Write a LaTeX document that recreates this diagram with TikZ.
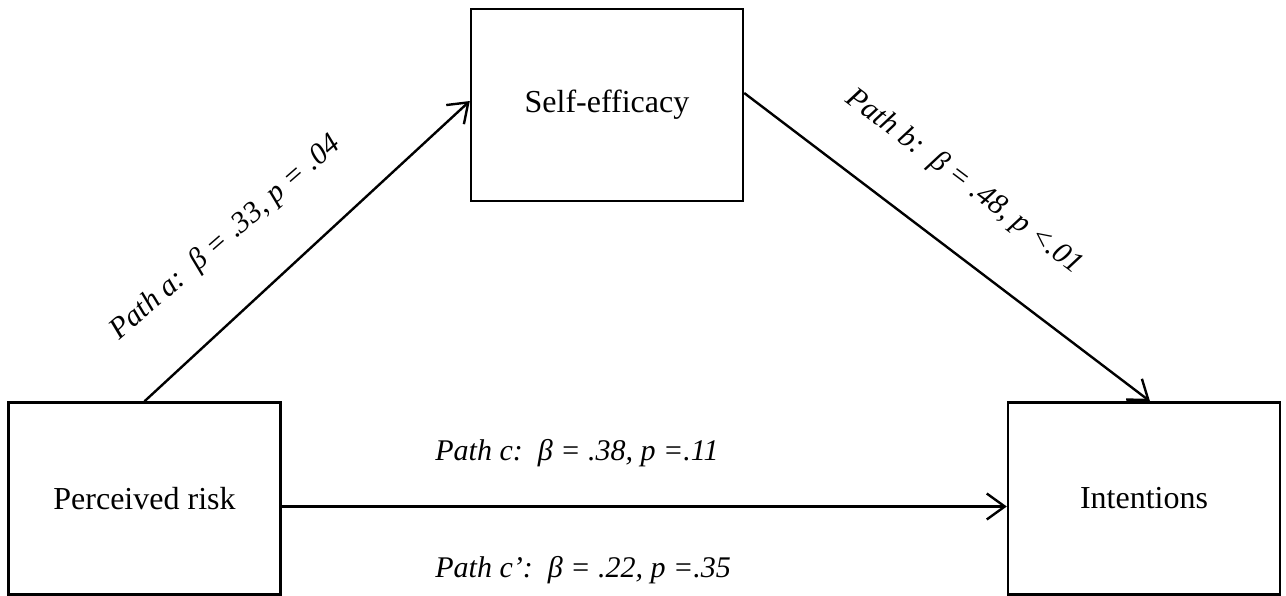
\documentclass[tikz,border=0pt]{standalone}
\usepackage{fontspec}
\setmainfont{Liberation Serif}
\usetikzlibrary{arrows.meta}
\begin{document}
\begin{tikzpicture}[x=0.5pt,y=-0.5pt,
  box/.style={draw,line width=1.2pt,minimum width=136pt,minimum height=96pt,inner sep=0pt,font=\fontsize{16}{19}\selectfont},
  conn/.style={line width=1.2pt,-{Straight Barb[length=9pt,width=13pt,line width=1.2pt]}},
  lab/.style={font=\fontsize{15}{18}\selectfont\itshape,inner sep=0pt}]
\useasboundingbox (0,0) rectangle (1286,595);
\node[box] (se) at (607,105) {Self-efficacy};
\node[box] (pr) at (144.5,498.5) {Perceived risk};
\node[box] (in) at (1144,498.5) {Intentions};
\draw[conn] (pr.north) -- ([yshift=2pt]se.west);
\draw[conn] ([yshift=6pt]se.east) -- ([xshift=3pt]in.north);
\draw[conn] ([yshift=-4pt]pr.east) -- ([yshift=-4pt]in.west);
\node[lab,rotate=41] (la) at (226,238) {Path a:\ \ β = .33, p = .04};
\node[lab,rotate=-37] (lb) at (964,182) {Path b:\ \ β = .48, p <.01};
\node[lab,anchor=base west] (lc) at (435,460) {Path c:\ \ β = .38, p =.11};
\node[lab,anchor=base west] (lc2) at (435,577) {Path c’:\ \ β = .22, p =.35};
\end{tikzpicture}
\end{document}
